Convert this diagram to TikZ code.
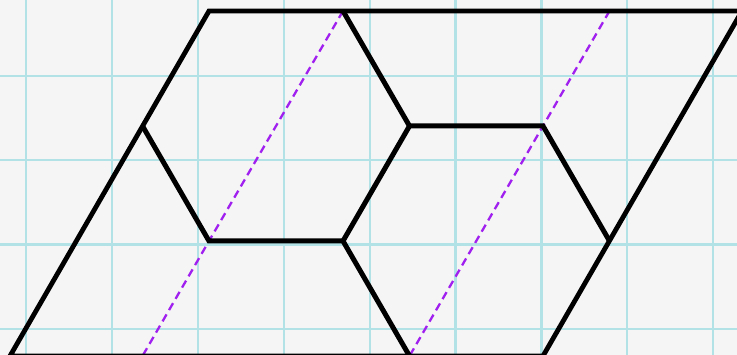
\documentclass[tikz,border=0pt]{standalone}
\usetikzlibrary{calc}
\definecolor{paper}{HTML}{F5F5F5}
\definecolor{gridcyan}{HTML}{B2E2E5}
\definecolor{dashpurple}{HTML}{A020F0}
\tikzset{
  gridline/.style={draw=gridcyan, line width=2.2pt},
  hexline/.style={draw=black, line width=5pt, line join=miter, line cap=butt},
  outline/.style={draw=black, line width=4.8pt, line join=miter},
  guide/.style={draw=dashpurple, line width=2.3pt, dash pattern=on 8pt off 5pt},
}
\begin{document}
\begin{tikzpicture}[x=1pt,y=-1pt]
  \useasboundingbox (0,0) rectangle (737,355);
  \fill[paper] (0,0) rectangle (737,355);
  % grid
  \foreach \gx in {26,111.9,197.8,283.7,369.6,455.5,541.4,627.3,713.2}
    \draw[gridline] (\gx,0) -- (\gx,355);
  \foreach \gy in {76,160.3,244.6,328.9}
    \draw[gridline] (0,\gy) -- (737,\gy);
  % vertices
  \coordinate (BL) at (10,356);
  \coordinate (TL) at (209,11);
  \coordinate (TR) at (742,11);
  \coordinate (BR) at (543,356);
  \coordinate (G) at (142.5,126);
  \coordinate (H) at (209,241);
  \coordinate (I) at (343,241);
  \coordinate (J) at (409.5,356);
  \coordinate (B) at (343,11);
  \coordinate (C) at (409.5,126);
  \coordinate (D) at (543,126);
  \coordinate (E) at (609.5,241);
  \coordinate (Q) at (609.5,11);
  \coordinate (P) at (142.5,356);
  % dashed guides
  \draw[guide] (B) -- (H) -- (P);
  \draw[guide] (Q) -- (D) -- (J);
  % outline
  \draw[outline] (BL) -- (TL) -- (TR) -- (BR) -- cycle;
  % hexagon edges
  \draw[hexline] (G) -- (H) -- (I) -- (J);
  \draw[hexline] (B) -- (C) -- (D) -- (E);
  \draw[hexline] (C) -- (I);
\end{tikzpicture}
\end{document}
